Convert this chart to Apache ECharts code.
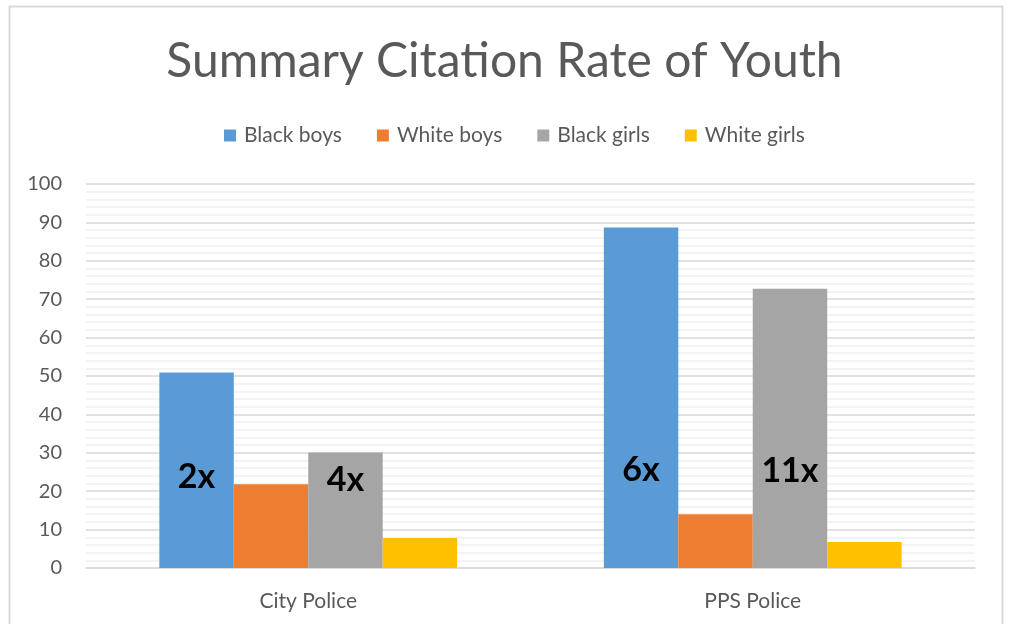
<!DOCTYPE html>
<html>
<head>
<meta charset="utf-8">
<script src="https://cdn.jsdelivr.net/npm/echarts@6/dist/echarts.min.js"></script>
<style>
html,body{margin:0;padding:0;background:#fff;}
#c{width:1009px;height:624px;}
</style>
</head>
<body>
<div id="c"></div>
<script>
const categories = ['City Police', 'PPS Police'];
const seriesNames = ['Black boys', 'White boys', 'Black girls', 'White girls'];
const blackBoys = [50.9, 88.7];
const whiteBoys = [21.8, 14.0];
const blackGirls = [30.1, 72.7];
const whiteGirls = [7.8, 6.8];
const blackBoysNotes = ['2x', '6x'];
const blackGirlsNotes = ['4x', '11x'];
const yTicks = [0, 10, 20, 30, 40, 50, 60, 70, 80, 90, 100];

const colors = ['#5b9bd5', '#ed7d31', '#a5a5a5', '#ffc000'];
const font = 'Lato, "Open Sans", sans-serif';

function withNotes(values, notes, distances) {
  return values.map((v, i) => ({
    value: v,
    label: {
      show: true,
      position: 'insideBottom',
      distance: distances[i],
      formatter: notes[i],
      color: '#000',
      fontSize: 34,
      fontWeight: 'bold',
      fontFamily: font
    }
  }));
}

const chart = echarts.init(document.getElementById('c'));
chart.setOption({
  animation: false,
  color: colors,
  graphic: [{
    type: 'rect',
    shape: { x: 9.5, y: 6.5, width: 993, height: 640 },
    style: { fill: 'none', stroke: '#d9d9d9', lineWidth: 2 },
    silent: true
  }],
  title: {
    text: 'Summary Citation Rate of Youth',
    left: 'center',
    top: 33,
    textStyle: { fontFamily: font, fontSize: 48, fontWeight: 'normal', color: '#595959' }
  },
  legend: {
    data: seriesNames,
    top: 120,
    left: 219,
    itemWidth: 12,
    itemHeight: 12,
    itemGap: 35,
    icon: 'rect',
    textStyle: { fontFamily: font, fontSize: 21, color: '#595959', padding: [0, 0, 0, 3] }
  },
  grid: { left: 86, right: 34, top: 184, bottom: 56 },
  xAxis: {
    type: 'category',
    data: categories,
    axisLine: { lineStyle: { color: '#d9d9d9', width: 1.5 } },
    axisTick: { show: false },
    axisLabel: { fontFamily: font, fontSize: 21, color: '#595959', margin: 23 }
  },
  yAxis: {
    type: 'value',
    min: yTicks[0],
    max: yTicks[yTicks.length - 1],
    interval: 10,
    axisLine: { show: false },
    axisTick: { show: false },
    axisLabel: { fontFamily: font, fontSize: 20, color: '#595959', margin: 24 },
    splitLine: { lineStyle: { color: '#d9d9d9', width: 1.5 } },
    minorTick: { show: false, splitNumber: 5 },
    minorSplitLine: { show: true, lineStyle: { color: '#f0f0f0', width: 1.5 } }
  },
  series: [
    { name: seriesNames[0], type: 'bar', barGap: '0%', barCategoryGap: '33%',
      data: withNotes(blackBoys, blackBoysNotes, [74, 81]) },
    { name: seriesNames[1], type: 'bar', data: whiteBoys },
    { name: seriesNames[2], type: 'bar',
      data: withNotes(blackGirls, blackGirlsNotes, [71, 80]) },
    { name: seriesNames[3], type: 'bar', data: whiteGirls }
  ]
});
</script>
</body>
</html>
